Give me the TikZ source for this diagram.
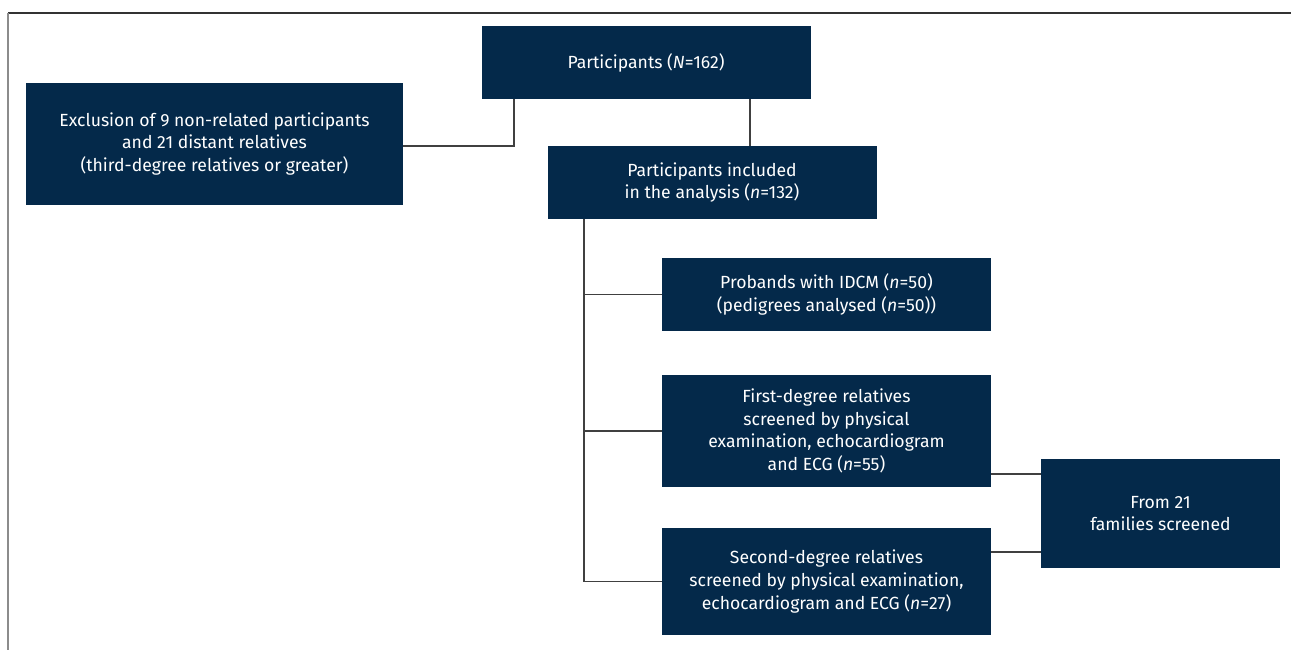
\documentclass[tikz,border=0pt]{standalone}
\usepackage{fontspec}
\setmainfont{Fira Sans}
\definecolor{navy}{RGB}{4,41,74}
\begin{document}
\begin{tikzpicture}[x=1pt,y=-1pt]
  \def\boxwidth{329pt}
  \tikzstyle{box} = [rectangle, fill=navy, text=white, align=center, inner sep = 0pt, minimum width = \boxwidth, font=\fontsize{17.6}{22.6}\selectfont]
  \tikzstyle{link} = [draw=black!75, line width=1.3pt]

  \useasboundingbox (0,0) rectangle (1291,650);
  \draw[black!80, line width=1.6pt] (8,13) -- (1291,13);
  \draw[black!45, line width=2pt] (8,13) -- (8,650);

  \node[box, minimum height=73pt] (total) at (646, 62.5) {Participants (\textit{N}=162)};
  \node[box, minimum width=377pt, minimum height=122pt] (excl) at (214.5, 144) {Exclusion of 9 non-related participants\\and 21 distant relatives\\(third-degree relatives or greater)};
  \node[box, minimum height=73pt] (incl) at (712, 182.5) {Participants included\\in the analysis (\textit{n}=132)};

  \node[box, minimum height=73pt] (prob) at (826.5, 294.5) {Probands with IDCM (\textit{n}=50)\\(pedigrees analysed (\textit{n}=50))};
  \node[box, minimum height=112pt] (first) at (826.5, 431) {First-degree relatives\\screened by physical\\examination, echocardiogram\\and ECG (\textit{n}=55)};
  \node[box, minimum height=107pt] (second) at (826.5, 581.5) {Second-degree relatives\\screened by physical examination,\\echocardiogram and ECG (\textit{n}=27)};
  \node[box, minimum width=239pt, minimum height=109pt] (fam) at (1160.5, 513.5) {From 21\\families screened};

  % junction points
  \coordinate (jexcl) at (514, 146);
  \coordinate (jincl) at (750, 146);
  \coordinate (spine) at (584, 0);
  \coordinate (jfirst) at (0, 474);
  \coordinate (jsecond) at (0, 552);

  \draw[link] (total.south -| jexcl) -- (jexcl) -- (excl.east |- jexcl);
  \draw[link] (total.south -| jincl) -- (incl.north -| jincl);
  \draw[link] (incl.south -| spine) |- (second.west);
  \draw[link] (prob.west) -- (prob.west -| spine);
  \draw[link] (first.west) -- (first.west -| spine);
  \draw[link] (first.east |- jfirst) -- (fam.west |- jfirst);
  \draw[link] (second.east |- jsecond) -- (fam.west |- jsecond);
\end{tikzpicture}
\end{document}
